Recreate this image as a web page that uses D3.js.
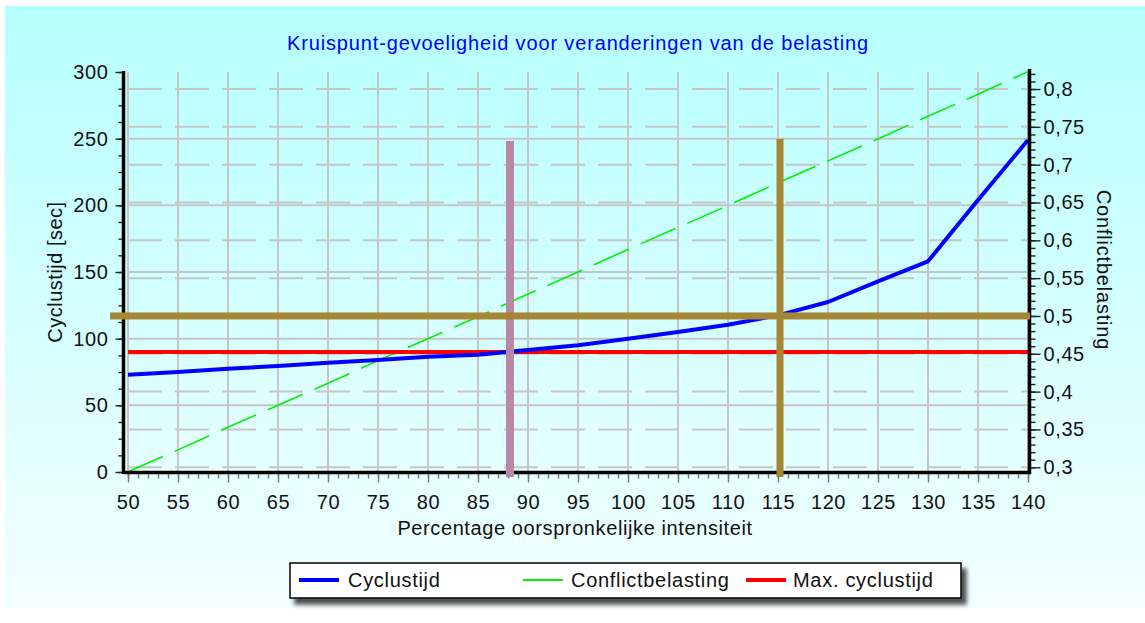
<!DOCTYPE html>
<html>
<head>
<meta charset="utf-8">
<script src="https://cdn.jsdelivr.net/npm/d3@7"></script>
<style>
  html, body { margin: 0; padding: 0; background: #ffffff; }
  svg { display: block; }
  text { font-family: "Liberation Sans", Arial, sans-serif; }
</style>
</head>
<body>
<svg id="chart" width="1145" height="623"></svg>
<script>
// Intensity as percentage of the original traffic load
const intensity = [50, 55, 60, 65, 70, 75, 80, 85, 90, 95, 100, 105, 110, 115, 120, 125, 130, 135, 140];
// Cycle time [sec] per intensity level
const cyclustijd = [73, 75, 77.5, 79.5, 82, 84, 86.5, 88, 91.5, 95, 100, 105, 110.5, 117.5, 127.5, 143, 158, 204, 249];
// Conflict load per intensity level (right axis)
const conflictbelasting = [0.294, 0.323, 0.353, 0.382, 0.411, 0.441, 0.470, 0.499, 0.529, 0.558, 0.588, 0.617, 0.646, 0.676, 0.705, 0.734, 0.764, 0.793, 0.823];
// Maximum permitted cycle time [sec]
const maxCyclustijd = [90, 90, 90, 90, 90, 90, 90, 90, 90, 90, 90, 90, 90, 90, 90, 90, 90, 90, 90];

// Tick values
const xTicks = [50, 55, 60, 65, 70, 75, 80, 85, 90, 95, 100, 105, 110, 115, 120, 125, 130, 135, 140];
const yLeftTicks = [0, 50, 100, 150, 200, 250, 300];
const yRightTicks = [0.3, 0.35, 0.4, 0.45, 0.5, 0.55, 0.6, 0.65, 0.7, 0.75, 0.8];

// Crossing markers
const maxCycleCrossing = 88.2;      // intensity where the cycle time reaches its maximum
const crossingIntensity = 115.2;    // intensity of the selected operating point
const crossingConflict = 0.5;       // conflict load of the selected operating point

const legendItems = ["Cyclustijd", "Conflictbelasting", "Max. cyclustijd"];

// ---------------------------------------------------------------
const svg = d3.select("#chart");
const W = 1145, H = 623;

const x = d3.scaleLinear().domain([50, 140]).range([128, 1028]);
const yL = d3.scaleLinear().domain([0, 300]).range([472, 72]);
const yR = d3.scaleLinear().domain([0.29375, 0.8225]).range([472, 72]);

const axisLeftX = 123.5, axisRightX = 1029.5, axisBottomY = 472.5;

// Background panel with vertical gradient
const defs = svg.append("defs");
const grad = defs.append("linearGradient").attr("id", "bg").attr("x1", 0).attr("y1", 0).attr("x2", 0).attr("y2", 1);
grad.append("stop").attr("offset", "0%").attr("stop-color", "#b5ffff");
grad.append("stop").attr("offset", "100%").attr("stop-color", "#f3ffff");

const shadow = defs.append("filter").attr("id", "shadow").attr("x", "-5%").attr("y", "-30%").attr("width", "115%").attr("height", "180%");
shadow.append("feDropShadow").attr("dx", 5).attr("dy", 6).attr("stdDeviation", 2)
  .attr("flood-color", "#333").attr("flood-opacity", 0.85);

svg.append("rect").attr("x", 0).attr("y", 0).attr("width", W).attr("height", H).attr("fill", "#ffffff");
svg.append("rect").attr("x", 5).attr("y", 6).attr("width", W - 5).attr("height", 602).attr("fill", "url(#bg)");

// Title
svg.append("text")
  .attr("x", 578).attr("y", 50)
  .attr("text-anchor", "middle")
  .attr("fill", "#0000ff")
  .style("font-size", "20px").style("letter-spacing", "0.85px")
  .text("Kruispunt-gevoeligheid voor veranderingen van de belasting");

// Grid
const grid = svg.append("g").attr("stroke", "#c6c6c6").attr("stroke-width", 2).attr("fill", "none");
grid.selectAll("line.v").data(xTicks).join("line")
  .attr("class", "v")
  .attr("x1", d => x(d)).attr("x2", d => x(d))
  .attr("y1", yL(300)).attr("y2", yL(0));
grid.selectAll("line.hl").data(yLeftTicks.filter(d => d > 0 && d < 300)).join("line")
  .attr("class", "hl")
  .attr("x1", x(50)).attr("x2", x(140))
  .attr("y1", d => yL(d)).attr("y2", d => yL(d));
grid.selectAll("line.hr").data(yRightTicks).join("line")
  .attr("class", "hr")
  .attr("x1", x(50)).attr("x2", x(140))
  .attr("y1", d => yR(d)).attr("y2", d => yR(d))
  .attr("stroke-dasharray", "34,13");

// Series
const lineL = d3.line().x((d, i) => x(intensity[i])).y(d => yL(d));
const lineR = d3.line().x((d, i) => x(intensity[i])).y(d => yR(d));

svg.append("path").datum(conflictbelasting)
  .attr("d", lineR).attr("fill", "none")
  .attr("stroke", "#00f000").attr("stroke-width", 1.6)
  .attr("stroke-dasharray", "38,13");

svg.append("path").datum(maxCyclustijd)
  .attr("d", lineL).attr("fill", "none")
  .attr("stroke", "#ff0000").attr("stroke-width", 4);

svg.append("path").datum(cyclustijd)
  .attr("d", lineL).attr("fill", "none")
  .attr("stroke", "#0000ff").attr("stroke-width", 4)
  .attr("stroke-linejoin", "round");

// Axes
function styleAxis(g) {
  g.select(".domain").remove();
  g.selectAll(".tick line").attr("stroke", "#222").attr("stroke-width", 1.4);
  g.selectAll(".tick text").attr("fill", "#111")
    .style("font-size", "20px").style("letter-spacing", "0.6px");
}

const minorLeft = d3.range(0, 300.01, 12.5);
svg.append("g").attr("transform", `translate(${axisLeftX},0)`)
  .call(d3.axisLeft(yL).tickValues(minorLeft).tickSize(5).tickFormat(""))
  .call(styleAxis);
svg.append("g").attr("transform", `translate(${axisLeftX},0)`)
  .call(d3.axisLeft(yL).tickValues(yLeftTicks).tickSize(8).tickPadding(7))
  .call(styleAxis);

const minorBottom = d3.range(50, 140.01, 1);
svg.append("g").attr("transform", `translate(0,${axisBottomY})`)
  .call(d3.axisBottom(x).tickValues(minorBottom).tickSize(6).tickFormat(""))
  .call(styleAxis)
  .call(g => g.selectAll(".tick line").attr("stroke", "#777"));
svg.append("g").attr("transform", `translate(0,${axisBottomY})`)
  .call(d3.axisBottom(x).tickValues(xTicks).tickSize(10).tickPadding(12))
  .call(styleAxis)
  .call(g => g.selectAll(".tick line").attr("stroke", "#777"));

const commaFmt = d => String(+d.toFixed(2)).replace(".", ",");
const minorRight = d3.range(0.3, 0.8201, 0.01);
svg.append("g").attr("transform", `translate(${axisRightX},0)`)
  .call(d3.axisRight(yR).tickValues(minorRight).tickSize(6).tickFormat(""))
  .call(styleAxis);
svg.append("g").attr("transform", `translate(${axisRightX},0)`)
  .call(d3.axisRight(yR).tickValues(yRightTicks).tickSize(11).tickPadding(3).tickFormat(commaFmt))
  .call(styleAxis);

// Axis lines
const axisLines = svg.append("g").attr("stroke", "#000").attr("stroke-width", 3.5);
axisLines.append("line").attr("x1", axisLeftX).attr("x2", axisLeftX).attr("y1", 71).attr("y2", 474);
axisLines.append("line").attr("x1", axisRightX).attr("x2", axisRightX).attr("y1", 69).attr("y2", 474);
axisLines.append("line").attr("x1", axisLeftX).attr("x2", axisRightX + 1.5).attr("y1", axisBottomY).attr("y2", axisBottomY);

// Axis titles
svg.append("text")
  .attr("transform", `translate(55,272) rotate(-90)`)
  .attr("text-anchor", "middle").attr("dominant-baseline", "central")
  .attr("fill", "#111").style("font-size", "20px").style("letter-spacing", "0.5px")
  .text("Cyclustijd [sec]");
svg.append("text")
  .attr("transform", `translate(1104,270) rotate(90)`)
  .attr("text-anchor", "middle").attr("dominant-baseline", "central")
  .attr("fill", "#111").style("font-size", "20px").style("letter-spacing", "0.8px")
  .text("Conflictbelasting");
svg.append("text")
  .attr("x", 575).attr("y", 535)
  .attr("text-anchor", "middle")
  .attr("fill", "#111").style("font-size", "20px").style("letter-spacing", "0.6px")
  .text("Percentage oorspronkelijke intensiteit");

// Crossing markers
svg.append("rect")
  .attr("x", x(maxCycleCrossing) - 4).attr("width", 8)
  .attr("y", yL(248.25)).attr("height", yL(-3.75) - yL(248.25))
  .attr("fill", "#b888a6");
svg.append("rect")
  .attr("x", x(crossingIntensity) - 3.5).attr("width", 7)
  .attr("y", yL(249.75)).attr("height", yL(-3.75) - yL(249.75))
  .attr("fill", "#a68533");
svg.append("rect")
  .attr("x", x(48.2)).attr("width", x(140.2) - x(48.2))
  .attr("y", yR(crossingConflict) - 3.5).attr("height", 7)
  .attr("fill", "#a68533");

// Legend
const legend = svg.append("g");
legend.append("rect")
  .attr("x", 290).attr("y", 563).attr("width", 671).attr("height", 35)
  .attr("fill", "#ffffff").attr("stroke", "#000").attr("stroke-width", 1.5)
  .attr("filter", "url(#shadow)");
const legendColors = ["#0000ff", "#00f000", "#ff0000"];
const legendWidths = [4, 2.2, 4];
const legendLineX = [299, 523, 746];
const legendTextX = [348, 571, 793];
legendItems.forEach((name, i) => {
  legend.append("line")
    .attr("x1", legendLineX[i]).attr("x2", legendLineX[i] + 40)
    .attr("y1", 580).attr("y2", 580)
    .attr("stroke", legendColors[i]).attr("stroke-width", legendWidths[i]);
  legend.append("text")
    .attr("x", legendTextX[i]).attr("y", 580)
    .attr("dominant-baseline", "central")
    .attr("fill", "#111").style("font-size", "20px").style("letter-spacing", "0.7px")
    .text(name);
});
</script>
</body>
</html>
